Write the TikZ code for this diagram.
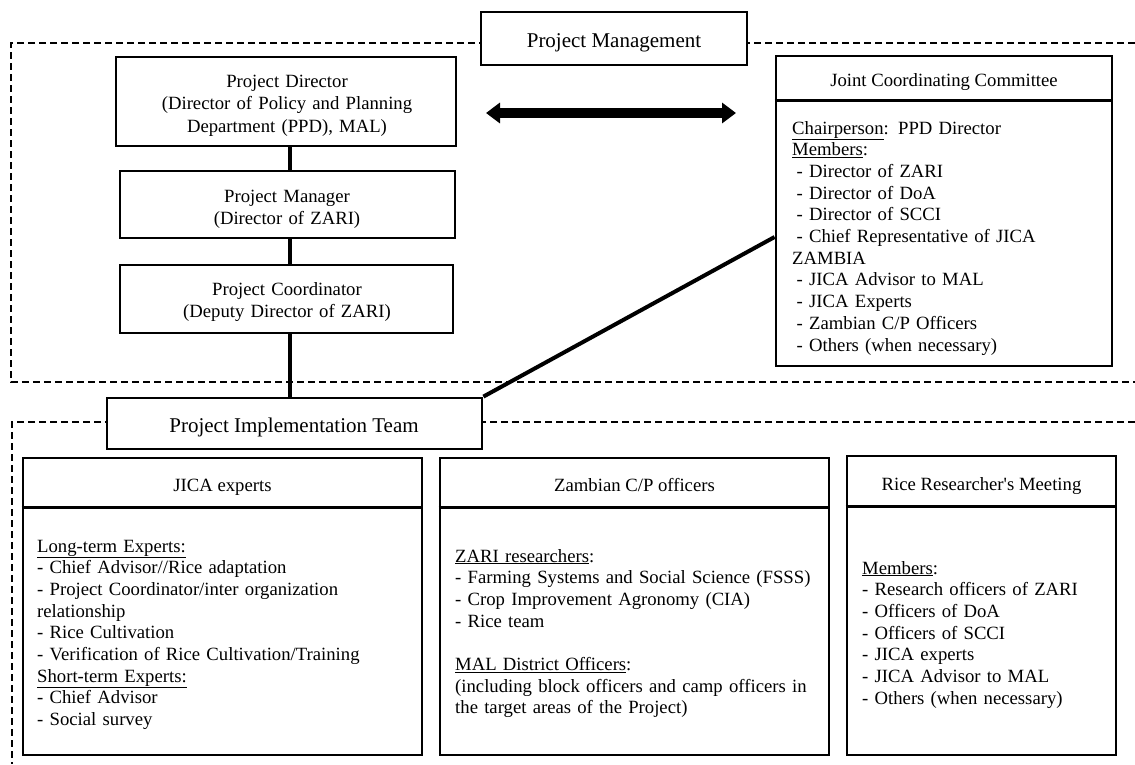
\documentclass[tikz,border=0pt]{standalone}
\usepackage{fontspec}
\setmainfont{Liberation Serif}
\usetikzlibrary{arrows.meta,calc}
\tikzset{
  boxnode/.style={draw, line width=2.8pt, fill=white, inner sep=0pt, rectangle},
  conn/.style={line width=4pt},
  dashframe/.style={line width=2.5pt, dash pattern=on 7pt off 4pt},
  bodytext/.style={font=\fontsize{18.7}{21.7}\selectfont, inner sep=0pt, anchor=base west, align=left},
  centertext/.style={font=\fontsize{18.7}{22.5}\selectfont, inner sep=0pt, anchor=base, align=center},
  titletext/.style={font=\fontsize{21}{25}\selectfont, inner sep=0pt, anchor=base},
  bigarrow/.style={line width=10pt, {Triangle[length=14pt,width=20pt]}-{Triangle[length=14pt,width=20pt]}},
}
\newcommand{\ind}{\hspace*{4.5pt}}
\begin{document}
\begin{tikzpicture}[x=1pt,y=-1pt]
\useasboundingbox (0,0) rectangle (1135,764);
\fill[white] (0,0) rectangle (1135,764);
% dashed frames
\draw[dashframe] (1135,43) -- (11,43) -- (11,382) -- (1135,382);
\draw[dashframe] (1135,422) -- (12,422) -- (12,764);
% boxes
\node[boxnode, minimum width=266pt, minimum height=53pt] (pm) at (614,38.5) {};
\node[boxnode, minimum width=340pt, minimum height=89pt] (pd) at (286,101.5) {};
\node[boxnode, minimum width=335pt, minimum height=67pt] (pmg) at (287.5,204.5) {};
\node[boxnode, minimum width=333pt, minimum height=68pt] (pc) at (286.5,299) {};
\node[boxnode, minimum width=336pt, minimum height=310pt] (jcc) at (944,211) {};
\node[boxnode, minimum width=375pt, minimum height=51pt] (pit) at (294.5,423.5) {};
\node[boxnode, minimum width=399pt, minimum height=297pt] (jica) at (222.5,606.5) {};
\node[boxnode, minimum width=389pt, minimum height=297pt] (zcp) at (634.5,606.5) {};
\node[boxnode, minimum width=269pt, minimum height=299pt] (rrm) at (981.5,605.5) {};
% header dividers
\draw[line width=2.8pt] ([yshift=-46pt]jcc.north west) -- ([yshift=-46pt]jcc.north east);
\draw[line width=2.8pt] ([yshift=-51pt]jica.north west) -- ([yshift=-51pt]jica.north east);
\draw[line width=2.8pt] ([yshift=-51pt]zcp.north west) -- ([yshift=-51pt]zcp.north east);
\draw[line width=2.8pt] ([yshift=-52pt]rrm.north west) -- ([yshift=-52pt]rrm.north east);
% connectors
\coordinate (spine) at (290,0);
\draw[conn] (pd.south -| spine) -- (pmg.north -| spine);
\draw[conn] (pmg.south -| spine) -- (pc.north -| spine);
\draw[conn] (pc.south -| spine) -- (pit.north -| spine);
\draw[conn] (pit.north east) -- ([yshift=-26pt]jcc.west);
\coordinate (al) at (486,113);
\coordinate (ar) at (736,113);
\draw[bigarrow] (al) -- (ar);
% texts
\node[titletext] (pmt) at (614,47) {Project Management};
\node[centertext, text width=330pt] (pdt) at (287,87) {Project Director\\(Director of Policy and Planning\\Department (PPD), MAL)};
\node[centertext, text width=330pt] (pmgt) at (287,202) {Project Manager\\(Director of ZARI)};
\node[centertext, text width=330pt] (pct) at (287,295) {Project Coordinator\\(Deputy Director of ZARI)};
\node[titletext] (pitt) at (294,432) {Project Implementation Team};
\node[centertext] (jcct) at (944,86) {Joint Coordinating Committee};
\node[bodytext, text width=310pt] (jccb) at (792,134) {\underline{Chairperson}: PPD Director\\
\underline{Members}:\\
\ind- Director of ZARI\\
\ind- Director of DoA\\
\ind- Director of SCCI\\
\ind- Chief Representative of JICA\\
ZAMBIA\\
\ind- JICA Advisor to MAL\\
\ind- JICA Experts\\
\ind- Zambian C/P Officers\\
\ind- Others (when necessary)};
\node[centertext] (jicat) at (222.5,491) {JICA experts};
\node[bodytext, text width=375pt] (jicab) at (37,552) {\underline{Long-term Experts:}\\
- Chief Advisor//Rice adaptation\\
- Project Coordinator/inter organization\\
relationship\\
- Rice Cultivation\\
- Verification of Rice Cultivation/Training\\
\underline{Short-term Experts:}\\
- Chief Advisor\\
- Social survey};
\node[centertext] (zcpt) at (634.5,491) {Zambian C/P officers};
\node[bodytext, text width=368pt] (zcpb) at (455,562) {\underline{ZARI researchers}:\\
- Farming Systems and Social Science (FSSS)\\
- Crop Improvement Agronomy (CIA)\\
- Rice team\\[21.7pt]
\underline{MAL District Officers}:\\
(including block officers and camp officers in\\
the target areas of the Project)};
\node[centertext] (rrmt) at (981.5,490) {Rice Researcher\textquotesingle s Meeting};
\node[bodytext, text width=248pt] (rrmb) at (862,574) {\underline{Members}:\\
- Research officers of ZARI\\
- Officers of DoA\\
- Officers of SCCI\\
- JICA experts\\
- JICA Advisor to MAL\\
- Others (when necessary)};
\end{tikzpicture}
\end{document}
